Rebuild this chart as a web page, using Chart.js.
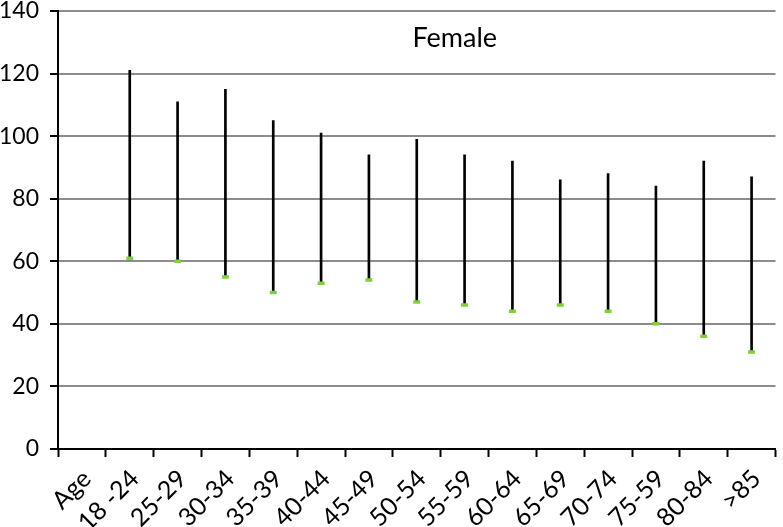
<!DOCTYPE html>
<html>
<head>
<meta charset="utf-8">
<script src="https://cdn.jsdelivr.net/npm/chart.js@4"></script>
<style>
  html, body { margin: 0; padding: 0; background: #fff; }
  #wrap { width: 783px; height: 527px; }
</style>
</head>
<body>
<div id="wrap"><canvas id="c"></canvas></div>
<script>
const ageGroups = ["Age", "18 -24", "25-29", "30-34", "35-39", "40-44", "45-49", "50-54",
                   "55-59", "60-64", "65-69", "70-74", "75-59", "80-84", ">85"];
const highs = [null, 121, 111, 115, 105, 101, 94, 99, 94, 92, 86, 88, 84, 92, 87];
const lows  = [null, 61, 60, 55, 50, 53, 54, 47, 46, 44, 46, 44, 40, 36, 31];
const yTicks = [0, 20, 40, 60, 80, 100, 120, 140];

const FONT = "Lato";

// "Female" label sits inside the plot, just under the top gridline
const panelLabel = {
  id: "panelLabel",
  afterDraw(chart) {
    const a = chart.chartArea, ctx = chart.ctx;
    ctx.save();
    ctx.font = "27px " + FONT;
    ctx.fillStyle = "#000";
    ctx.textAlign = "center";
    ctx.textBaseline = "alphabetic";
    ctx.fillText("Female", a.left + a.width * 0.553, a.top + 36);
    ctx.restore();
  }
};

new Chart(document.getElementById("c"), {
  type: "bar",
  data: {
    labels: ageGroups,
    datasets: [
      {
        label: "range",
        data: highs.map((h, i) => (h == null ? null : [lows[i], h])),
        backgroundColor: "#000",
        barThickness: 2,
        order: 2,
      },
      {
        type: "line",
        label: "low",
        data: lows,
        showLine: false,
        pointStyle: "line",
        pointRadius: 3.5,
        pointBorderWidth: 3.5,
        pointBorderColor: "#7fd13b",
        pointBackgroundColor: "#7fd13b",
        order: 1,
      },
    ],
  },
  options: {
    responsive: true,
    maintainAspectRatio: false,
    animation: false,
    layout: { padding: 0 },
    plugins: { legend: { display: false }, tooltip: { enabled: false } },
    scales: {
      x: {
        afterFit: (s) => { s.paddingLeft = 0; s.paddingRight = 0; s.height = 78; },
        grid: { drawOnChartArea: false, tickColor: "#000", tickLength: 8, tickWidth: 2 },
        border: { color: "#000", width: 2 },
        ticks: { color: "#000", font: { family: FONT, size: 25 }, autoSkip: false,
                 minRotation: 45, maxRotation: 45, padding: 7, labelOffset: 5 },
      },
      y: {
        min: 0, max: 140,
        afterBuildTicks: (s) => { s.ticks = yTicks.map((v) => ({ value: v })); },
        afterFit: (s) => { s.paddingTop = 11; s.paddingBottom = 0; s.width = 58; },
        grid: { color: "#8c8c8c", lineWidth: 2, tickColor: "#000", tickLength: 8, tickWidth: 2 },
        border: { color: "#000", width: 2 },
        ticks: { color: "#000", font: { family: FONT, size: 23 }, padding: 11 },
      },
    },
  },
  plugins: [panelLabel],
});
</script>
</body>
</html>
